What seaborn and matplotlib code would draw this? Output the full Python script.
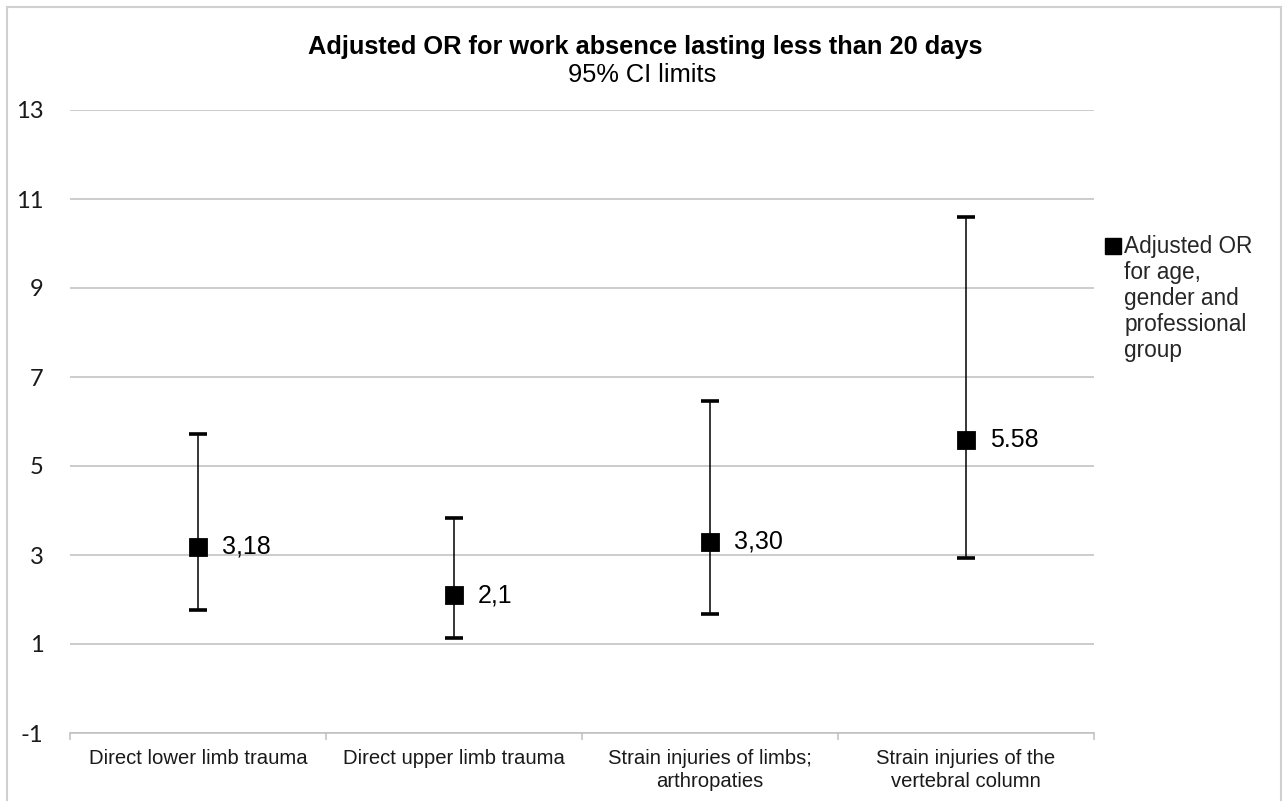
import numpy as np
import pandas as pd
import matplotlib
matplotlib.use("Agg")
import matplotlib.pyplot as plt
import seaborn as sns
from matplotlib.lines import Line2D
from matplotlib.legend_handler import HandlerLine2D
from matplotlib.patches import Rectangle
from matplotlib.ticker import FixedLocator

# ---------------- data ----------------
categories = ["Direct lower limb trauma", "Direct upper limb trauma",
              "Strain injuries of limbs;\narthropaties",
              "Strain injuries of the\nvertebral column"]
or_values = [3.18, 2.1, 3.30, 5.58]
ci_lower = [1.77, 1.14, 1.68, 2.93]
ci_upper = [5.71, 3.83, 6.46, 10.60]
point_labels = ["3,18", "2,1", "3,30", "5.58"]
y_ticks = [-1, 1, 3, 5, 7, 9, 11, 13]
title = "Adjusted OR for work absence lasting less than 20 days"
subtitle = "95% CI limits"
legend_label = "Adjusted OR\nfor age,\ngender and\nprofessional\ngroup"

# long-form table: lower, point, upper per category
rows = []
for c, lo, v, hi in zip(categories, ci_lower, or_values, ci_upper):
    for val in (lo, v, hi):
        rows.append({"category": c, "value": val})
df = pd.DataFrame(rows)

sns.set_theme(style="white")
plt.rcParams["font.family"] = ["Liberation Sans", "DejaVu Sans"]
plt.rcParams["axes.unicode_minus"] = False

W, H = 1283, 801
fig = plt.figure(figsize=(W / 100, H / 100), dpi=100)
ax = fig.add_axes([70 / W, 1 - 733 / H, (1094 - 70) / W, (733 - 110) / H])

grid_c = "#bfbfbf"

sns.pointplot(data=df, x="category", y="value", order=categories,
              estimator="median", errorbar=lambda v: (v.min(), v.max()),
              color="black", marker="s", markersize=12, linestyle="none",
              capsize=0, err_kws={"linewidth": 1.1, "color": "black"}, ax=ax)

xpos = np.arange(len(categories))
cap_half = 0.034
ax.hlines(ci_lower, xpos - cap_half, xpos + cap_half, colors="black", lw=2.6, zorder=3)
ax.hlines(ci_upper, xpos - cap_half, xpos + cap_half, colors="black", lw=2.6, zorder=3)

for x, v, lab in zip(xpos, or_values, point_labels):
    ax.annotate(lab, (x, v), xytext=(17, 0), textcoords="offset points",
                ha="left", va="center", fontsize=18, color="black")

ax.set_xlim(-0.5, len(categories) - 0.5)
ax.set_ylim(y_ticks[0], y_ticks[-1])
ax.set_yticks(y_ticks)
ax.set_yticklabels([str(t) for t in y_ticks])
ax.set_xlabel("")
ax.set_ylabel("")
ax.yaxis.grid(True, color=grid_c, lw=1.1)
ax.set_axisbelow(True)
for s in ["left", "top", "right"]:
    ax.spines[s].set_visible(False)
ax.spines["bottom"].set_color(grid_c)
ax.spines["bottom"].set_linewidth(1.1)

ax.tick_params(axis="y", length=0, pad=19, labelsize=17, labelcolor="#1a1a1a")
for lbl in ax.get_yticklabels():
    lbl.set_fontfamily(["Lato", "DejaVu Sans"])
ax.xaxis.set_minor_locator(FixedLocator(np.arange(len(categories) + 1) - 0.5))
ax.tick_params(axis="x", which="major", length=0, pad=11.5, labelsize=14.6,
               labelcolor="#1a1a1a")
ax.tick_params(axis="x", which="minor", bottom=True, length=5, width=1.1, color=grid_c)
for lbl in ax.get_xticklabels():
    lbl.set_linespacing(1.3)


class TopHandler(HandlerLine2D):
    def __init__(self, shift, **kw):
        super().__init__(**kw)
        self.shift = shift

    def create_artists(self, legend, orig_handle, xdescent, ydescent, width,
                       height, fontsize, trans):
        arts = super().create_artists(legend, orig_handle, xdescent, ydescent,
                                      width, height, fontsize, trans)
        for a in arts:
            a.set_ydata(np.asarray(a.get_ydata()) + self.shift)
        return arts


handle = Line2D([], [], marker="s", color="black", linestyle="none", markersize=11)
leg = fig.legend([handle], [legend_label], loc="upper left",
                 bbox_to_anchor=(1103 / W, 1 - 235 / H), frameon=False,
                 fontsize=16.3, handlelength=0.84, handletextpad=0.1,
                 borderpad=0, borderaxespad=0,
                 handler_map={handle: TopHandler(shift=38.7)})
for t in leg.get_texts():
    t.set_linespacing(1.17)

fig.text(645 / W, 1 - 47 / H, title, ha="center", va="center",
         fontsize=18.3, fontweight="bold", color="black")
fig.text(642 / W, 1 - 75 / H, subtitle, ha="center", va="center",
         fontsize=18.3, color="black")

fig.patches.append(Rectangle((7 / W, -0.02), (1281 - 7) / W, 1.02 - 7 / H,
                             transform=fig.transFigure, fill=False,
                             edgecolor="#d0d0d0", lw=1.5))

fig.savefig("out.png", dpi=100)
